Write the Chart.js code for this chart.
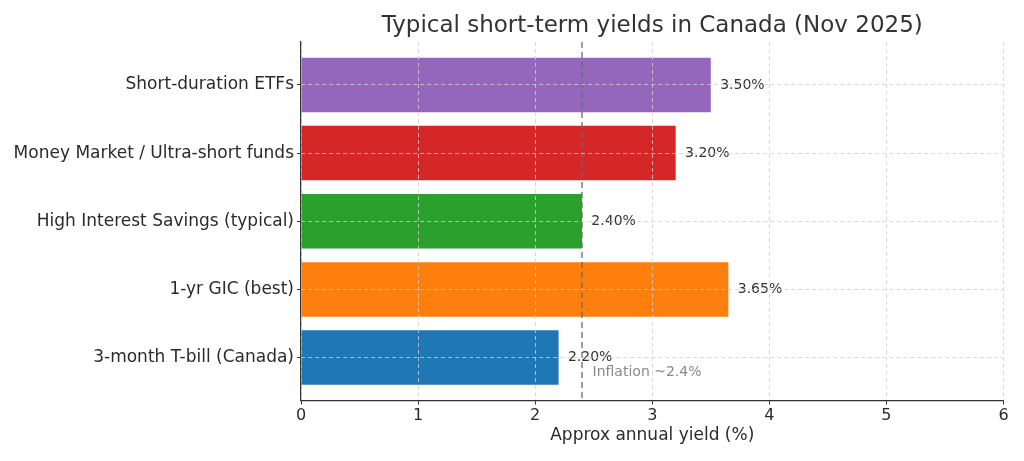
<!DOCTYPE html>
<html>
<head>
<meta charset="utf-8">
<script src="https://cdn.jsdelivr.net/npm/chart.js@4/dist/chart.umd.min.js"></script>
<style>
  html, body { margin: 0; padding: 0; background: #fff; }
  #wrap { width: 1024px; height: 461px; }
</style>
</head>
<body>
<div id="wrap"><canvas id="yieldChart"></canvas></div>
<script>
const categories = [
  '3-month T-bill (Canada)',
  '1-yr GIC (best)',
  'High Interest Savings (typical)',
  'Money Market / Ultra-short funds',
  'Short-duration ETFs'
];
const yields = [2.20, 3.65, 2.40, 3.20, 3.50];
const barColors = ['#1f77b4', '#ff7f0e', '#2ca02c', '#d62728', '#9467bd'];
const xTicks = [0, 1, 2, 3, 4, 5, 6];
const inflation = 2.4;
const inflationText = 'Inflation ~2.4%';
const titleText = 'Typical short-term yields in Canada (Nov 2025)';
const xTitle = 'Approx annual yield (%)';

const FONT = "'DejaVu Sans', sans-serif";
const TEXT = '#2b2b2b';

// title, value labels and inflation marker
const extras = {
  id: 'extras',
  afterDatasetsDraw(chart) {
    const { ctx, chartArea, scales: { x, y } } = chart;
    ctx.save();

    // inflation reference line
    const ix = x.getPixelForValue(inflation);
    ctx.strokeStyle = '#6b6b6b';
    ctx.lineWidth = 1.3;
    ctx.setLineDash([6, 4]);
    ctx.beginPath();
    ctx.moveTo(ix, chartArea.top);
    ctx.lineTo(ix, chartArea.bottom);
    ctx.stroke();
    ctx.setLineDash([]);

    ctx.font = '14px ' + FONT;
    ctx.textBaseline = 'middle';
    ctx.textAlign = 'left';
    ctx.fillStyle = '#8a8a8a';
    ctx.fillText(inflationText, x.getPixelForValue(inflation + 0.09), y.getPixelForValue(-0.22));

    // value labels
    ctx.fillStyle = '#333';
    yields.forEach((v, i) => {
      ctx.fillText(v.toFixed(2) + '%', x.getPixelForValue(v + 0.08), y.getPixelForValue(i));
    });

    // title
    ctx.font = '23px ' + FONT;
    ctx.textAlign = 'center';
    ctx.textBaseline = 'alphabetic';
    ctx.fillStyle = '#333';
    ctx.fillText(titleText, (chartArea.left + chartArea.right) / 2, 32);
    ctx.restore();
  }
};

const gridOpts = { color: '#cfcfcf', lineWidth: 0.8, z: 1, offset: false, tickColor: '#333', tickLength: 4, tickWidth: 1, tickBorderDash: [] };
const borderOpts = { display: true, color: '#333', width: 1.2, dash: [4, 3], z: 1 };

new Chart(document.getElementById('yieldChart'), {
  type: 'bar',
  data: {
    datasets: [{
      data: yields.map((v, i) => ({ x: v, y: i })),
      backgroundColor: barColors,
      borderWidth: 0,
      categoryPercentage: 1,
      barPercentage: 0.8
    }]
  },
  options: {
    indexAxis: 'y',
    responsive: true,
    maintainAspectRatio: false,
    animation: false,
    layout: { padding: { top: 42, right: 20.5, left: 0, bottom: 0 } },
    plugins: {
      legend: { display: false },
      tooltip: { enabled: false }
    },
    scales: {
      x: {
        type: 'linear',
        min: 0,
        max: 6,
        offset: false,
        afterBuildTicks: s => { s.ticks = xTicks.map(v => ({ value: v })); },
        afterFit: s => { s.height = 60.5; },
        ticks: { color: TEXT, font: { family: FONT, size: 16 }, padding: 2 },
        grid: gridOpts,
        border: borderOpts,
        title: { display: true, text: xTitle, color: TEXT, font: { family: FONT, size: 17 }, padding: { top: 0, bottom: 15 } }
      },
      y: {
        type: 'linear',
        min: -0.63,
        max: 4.63,
        offset: false,
        afterBuildTicks: s => { s.ticks = categories.map((c, i) => ({ value: i })); },
        afterFit: s => { s.width = 301; },
        ticks: { color: TEXT, font: { family: FONT, size: 17 }, padding: 3, callback: v => categories[v] },
        grid: gridOpts,
        border: borderOpts
      }
    }
  },
  plugins: [extras]
});
</script>
</body>
</html>
